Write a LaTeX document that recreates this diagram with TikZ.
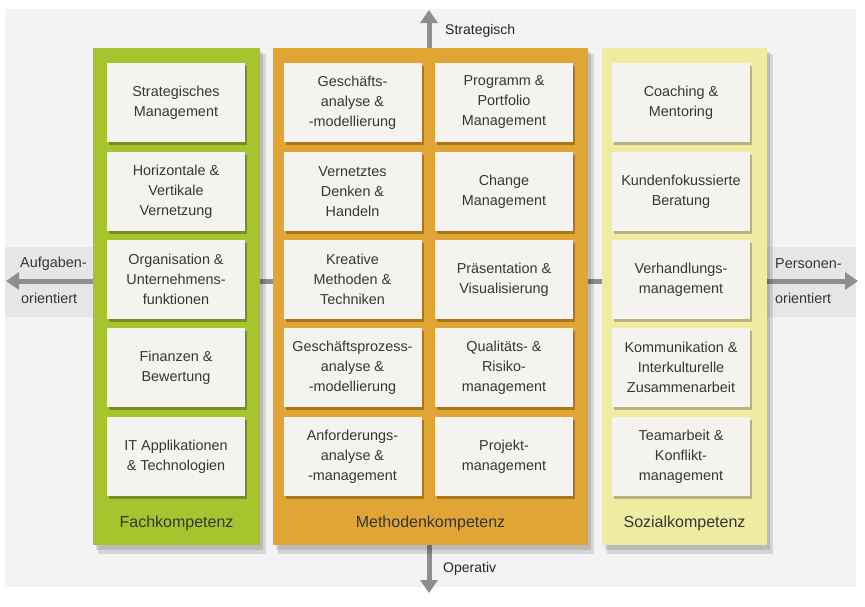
\documentclass[tikz,border=0pt]{standalone}
\usepackage{fontspec}
\setmainfont{Liberation Sans}
\usetikzlibrary{arrows.meta,shadows}
\definecolor{bgout}{HTML}{FFFFFF}
\definecolor{bggray}{HTML}{F3F3F3}
\definecolor{bandgray}{HTML}{E6E6E6}
\definecolor{arrowgray}{HTML}{8E8E8E}
\definecolor{fachgreen}{HTML}{A7C42E}
\definecolor{methorange}{HTML}{E0A535}
\definecolor{sozyellow}{HTML}{EFEBA0}
\definecolor{boxfill}{HTML}{F4F3EF}
\definecolor{greenshadow}{HTML}{6F7F1E}
\definecolor{orangeshadow}{HTML}{9C6C12}
\definecolor{yellowshadow}{HTML}{A9A57A}
\definecolor{txt}{HTML}{363636}
\tikzset{
  compbox/.style={rectangle, fill=boxfill, minimum width=138pt, minimum height=79pt,
    inner sep=0pt, align=center, text=txt, font=\fontsize{14.4}{20}\selectfont},
  gbox/.style={compbox, drop shadow={shadow xshift=2pt, shadow yshift=-3pt, fill=greenshadow, opacity=0.8}},
  obox/.style={compbox, drop shadow={shadow xshift=2pt, shadow yshift=-3pt, fill=orangeshadow, opacity=0.8}},
  ybox/.style={compbox, drop shadow={shadow xshift=2pt, shadow yshift=-3pt, fill=yellowshadow, opacity=0.8}},
  collabel/.style={text=txt, font=\fontsize{16}{18}\selectfont, inner sep=0pt},
  sidelabel/.style={text=txt, font=\fontsize{14.4}{16}\selectfont, inner sep=0pt, anchor=west},
  axislabel/.style={text=black!85, font=\fontsize{14}{16}\selectfont, inner sep=0pt, anchor=west},
  axisarrow/.style={draw=arrowgray, line width=5pt, -{Triangle[width=17pt,length=13pt]}},
  colshadow/.style={fill=black, opacity=0.12}
}
\begin{document}
\begin{tikzpicture}[x=1pt,y=-1pt]
\useasboundingbox (0,0) rectangle (865,606);
\fill[bgout] (0,0) rectangle (865,606);
\fill[bggray] (5,9) rectangle (856,587);
% horizontal band
\fill[bandgray] (5,247) rectangle (95,317);
\fill[bandgray] (767,247) rectangle (856,317);

% axis anchor coordinates
\coordinate (hc) at (429,281);
\coordinate (leftend) at (6,281);
\coordinate (rightend) at (858,281);
\coordinate (topend) at (429,10);
\coordinate (botend) at (429,593);
\draw[axisarrow] (hc) -- (leftend);
\draw[axisarrow] (hc) -- (rightend);
\draw[axisarrow] (hc) -- (topend);
\draw[axisarrow] (hc) -- (botend);

% column shadows
\foreach \a/\b in {93/260,273/588,602/767}{
  \fill[colshadow] (\a+3,48+4) rectangle (\b+3,545+5);
  \fill[colshadow] (\a+5,48+6) rectangle (\b+6,545+9);
}
% columns
\fill[fachgreen] (93,48) rectangle (260,545);
\fill[methorange] (273,48) rectangle (588,545);
\fill[sozyellow] (602,48) rectangle (767,545);

% green column boxes
\node[gbox] (f1) at (176,102.5) {Strategisches\\Management};
\node[gbox] (f2) at (176,191.5) {Horizontale \&\\Vertikale\\Vernetzung};
\node[gbox] (f3) at (176,279.5) {Organisation \&\\Unternehmens-\\funktionen};
\node[gbox] (f4) at (176,367.5) {Finanzen \&\\Bewertung};
\node[gbox] (f5) at (176,456.5) {IT Applikationen\\\& Technologien};
\node[collabel] (fl) at (176.5,523) {Fachkompetenz};

% orange column boxes
\node[obox] (m1) at (352.5,102.5) {Geschäfts-\\analyse \&\\-modellierung};
\node[obox] (m2) at (352.5,191.5) {Vernetztes\\Denken \&\\Handeln};
\node[obox] (m3) at (352.5,279.5) {Kreative\\Methoden \&\\Techniken};
\node[obox] (m4) at (352.5,367.5) {Geschäftsprozess-\\analyse \&\\-modellierung};
\node[obox] (m5) at (352.5,456.5) {Anforderungs-\\analyse \&\\-management};
\node[obox] (n1) at (504,102.5) {Programm \&\\Portfolio\\Management};
\node[obox] (n2) at (504,191.5) {Change\\Management};
\node[obox] (n3) at (504,279.5) {Präsentation \&\\Visualisierung};
\node[obox] (n4) at (504,367.5) {Qualitäts- \&\\Risiko-\\management};
\node[obox] (n5) at (504,456.5) {Projekt-\\management};
\node[collabel] (ml) at (430.5,523) {Methodenkompetenz};

% yellow column boxes
\node[ybox] (s1) at (681,102.5) {Coaching \&\\Mentoring};
\node[ybox] (s2) at (681,191.5) {Kundenfokussierte\\Beratung};
\node[ybox] (s3) at (681,279.5) {Verhandlungs-\\management};
\node[ybox] (s4) at (681,367.5) {Kommunikation \&\\Interkulturelle\\Zusammenarbeit};
\node[ybox] (s5) at (681,456.5) {Teamarbeit \&\\Konflikt-\\management};
\node[collabel] (sl) at (684.5,523) {Sozialkompetenz};

% axis labels
\node[axislabel] (strat) at (445,31) {Strategisch};
\node[axislabel] (oper) at (443,569) {Operativ};
\node[sidelabel] (aufg1) at (20,264) {Aufgaben-};
\node[sidelabel] (aufg2) at (21,298) {orientiert};
\node[sidelabel] (pers1) at (775,264) {Personen-};
\node[sidelabel] (pers2) at (775,298) {orientiert};
\end{tikzpicture}
\end{document}
